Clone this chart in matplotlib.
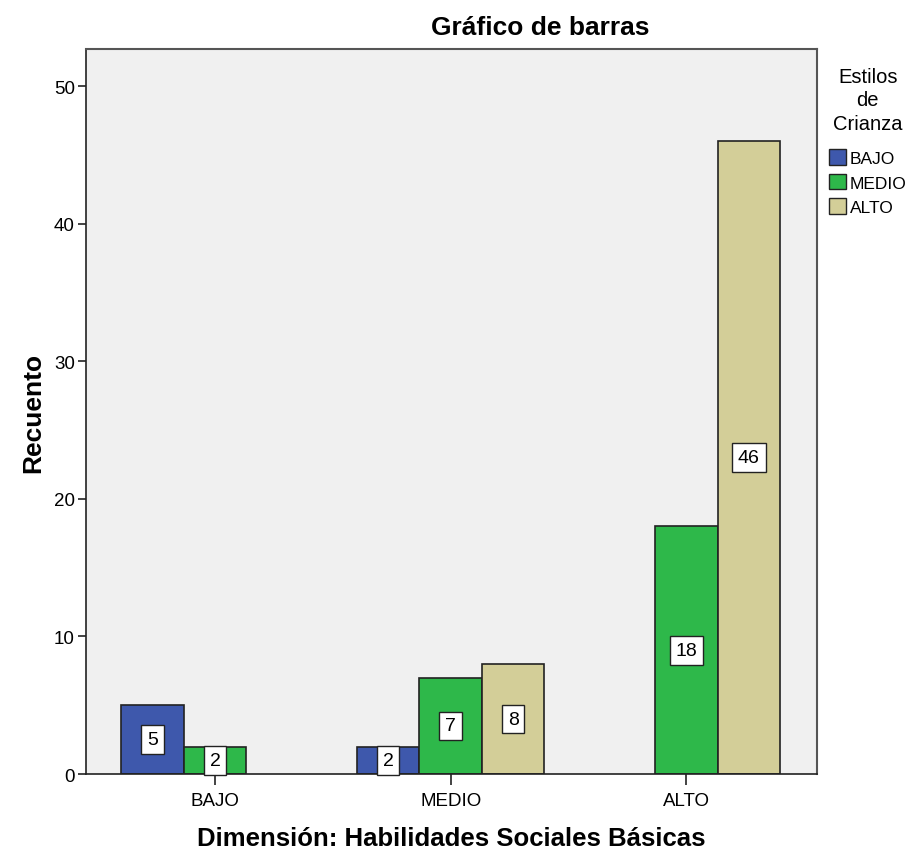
import matplotlib.pyplot as plt
import numpy as np
from matplotlib.patches import Patch

plt.rcParams["font.family"] = ["Liberation Sans", "DejaVu Sans"]

groups = ["BAJO", "MEDIO", "ALTO"]
series = ["BAJO", "MEDIO", "ALTO"]
counts = {
    "BAJO": [5, 2, 0],
    "MEDIO": [2, 7, 18],
    "ALTO": [0, 8, 46],
}
colors = {"BAJO": "#3E58AC", "MEDIO": "#2EB84A", "ALTO": "#D3CE98"}

fig = plt.figure(figsize=(9.09, 8.53), dpi=100)
ax = fig.add_axes([0.0946, 0.0914, 0.8042, 0.85])
ax.set_facecolor("#F0F0F0")

width = 1.0
gap = 3.77
centers = np.arange(len(groups)) * gap

for i, s in enumerate(series):
    offs = (i - 1) * width
    for g, v in zip(centers, counts[s]):
        if v == 0:
            continue  # SPSS leaves empty slot
        ax.bar(g + offs, v, width=width, color=colors[s], edgecolor="#222222",
               linewidth=1.2, zorder=2)
        ax.text(g + offs, v / 2, str(v), ha="center", va="center", fontsize=14,
                zorder=4, clip_on=False,
                bbox=dict(boxstyle="square,pad=0.3", fc="white", ec="#222222", lw=1))

ax.set_xlim(-2.064, 9.632)
ax.set_ylim(0, 52.7)
ax.set_xticks(centers)
ax.set_xticklabels(groups, fontsize=13.5)
ax.set_yticks([0, 10, 20, 30, 40, 50])
ax.tick_params(axis="both", labelsize=13.5, length=6, width=1.2, color="#222222")
ax.tick_params(axis="x", length=8, pad=5)
ax.tick_params(axis="y", pad=2)

for side in ["left", "bottom"]:
    ax.spines[side].set_color("#222222")
    ax.spines[side].set_linewidth(1.2)
for side in ["top", "right"]:
    ax.spines[side].set_color("#555555")
    ax.spines[side].set_linewidth(1.5)

fig.text(540 / 909, 1 - 28 / 853, "Gráfico de barras", fontsize=19,
         fontweight="bold", ha="center", va="center")
ax.set_xlabel("Dimensión: Habilidades Sociales Básicas", fontsize=18.5,
              fontweight="bold", labelpad=12)
ax.set_ylabel("Recuento", fontsize=19, fontweight="bold", labelpad=6)

handles = [Patch(facecolor=colors[s], edgecolor="#222222", label=s) for s in series]
leg = ax.legend(handles=handles, title="Estilos\nde\nCrianza", loc="upper left",
                bbox_to_anchor=(1.002, 0.99), frameon=False, fontsize=12.5,
                title_fontsize=14.5, handlelength=1.0, handleheight=1.0,
                handletextpad=0.2, labelspacing=0.45, borderaxespad=0.2)
leg.get_title().set_ha("center")
leg.get_title().set_linespacing(1.3)
leg._legend_box.sep = 12

fig.savefig("out.png", dpi=100)
